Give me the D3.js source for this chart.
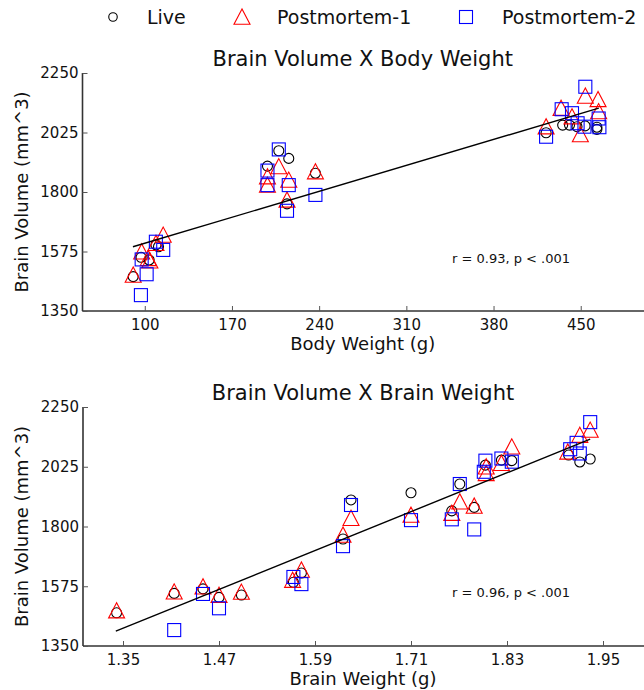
<!DOCTYPE html>
<html><head><meta charset="utf-8">
<script src="https://cdn.jsdelivr.net/npm/d3@7"></script>
<style>body{margin:0;background:#fff}svg{display:block}text{font-family:"DejaVu Sans",sans-serif;fill:#111}</style>
</head><body><svg id="c" width="644" height="690"></svg>
<script>
// ---- data ----
const yTicks = [1350, 1575, 1800, 2025, 2250];
const bodyTicks = [100, 170, 240, 310, 380, 450];
const brainTicks = [1.35, 1.47, 1.59, 1.71, 1.83, 1.95];
const seriesNames = ["Live", "Postmortem-1", "Postmortem-2"];

// Panel 1: Body weight (g) vs brain volume (mm^3)
const bodyLive = [[90.7,1480],[97,1553],[103.5,1543],[109,1600],[111,1593],[198.5,1898],[207.6,1956],[215.6,1927],[214.2,1755],[237,1871],[422.2,2024],[435.5,2053],[441,2053],[447,2047],[453.5,2050],[463,2045],[463,2037]];
const bodyPM1 = [[90.7,1486],[97.5,1574],[102.8,1549],[104.1,1540],[109,1606],[114.8,1637],[198.5,1858],[198.5,1826],[207.6,1896],[215.6,1845],[214.2,1770],[237,1877],[422.2,2047],[434.2,2117],[443,2085],[449.7,2017],[453.7,2163],[463.9,2150],[464.4,2104]];
const bodyPM2 = [[96.9,1410],[101.5,1489],[97.5,1545],[108.9,1612],[114.8,1581],[207.6,1961],[198.5,1881],[198.5,1826],[215.6,1826],[214.2,1729],[237,1789],[422.2,2009],[434.7,2113],[443,2098],[447.5,2060],[453,2047],[453.7,2198],[464.4,2078],[465,2045]];
const bodyFit = [[90.5,1593],[464.5,2117]];
const bodyStat = "r = 0.93, p < .001";

// Panel 2: Brain weight (g) vs brain volume (mm^3)
const brainLive = [[1.342,1475],[1.414,1548],[1.450,1565],[1.470,1533],[1.498,1542],[1.563,1590],[1.573,1625],[1.625,1753],[1.635,1900],[1.710,1927],[1.761,1859],[1.771,1960],[1.789,1872],[1.803,2031],[1.823,2050],[1.836,2048],[1.907,2069],[1.921,2043],[1.934,2054]];
const brainPM1 = [[1.342,1483],[1.414,1554],[1.450,1573],[1.470,1541],[1.498,1553],[1.562,1598],[1.573,1636],[1.625,1768],[1.635,1831],[1.710,1843],[1.761,1850],[1.771,1893],[1.789,1877],[1.804,2025],[1.804,2000],[1.823,2038],[1.836,2100],[1.906,2081],[1.921,2144],[1.934,2163]];
const brainPM2 = [[1.414,1410],[1.450,1546],[1.470,1492],[1.563,1610],[1.573,1583],[1.625,1726],[1.635,1881],[1.710,1824],[1.761,1827],[1.771,1960],[1.789,1789],[1.803,2048],[1.801,2006],[1.823,2056],[1.836,2044],[1.909,2091],[1.917,2115],[1.921,2075],[1.934,2193]];
const brainFit = [[1.341,1406],[1.934,2129]];
const brainStat = "r = 0.96, p < .001";

// ---- drawing ----
const svg = d3.select("#c");
const colors = ["#000000", "#ff0000", "#0000ff"];
const shapes = ["circle", "triangle", "square"];

function marker(g, shape, x, y, color, scale) {
  scale = scale || 1;
  if (shape === "circle") {
    g.append("circle").attr("cx", x).attr("cy", y).attr("r", 5 * scale)
      .attr("fill", "none").attr("stroke", color).attr("stroke-width", 1.1);
  } else if (shape === "triangle") {
    const s = 8 * scale;
    g.append("path").attr("d", `M${x},${y - s}L${x - s},${y + s * 0.9}L${x + s},${y + s * 0.9}Z`)
      .attr("fill", "none").attr("stroke", color).attr("stroke-width", 1.1);
  } else {
    const s = 6.5 * scale;
    g.append("rect").attr("x", x - s).attr("y", y - s).attr("width", 2 * s).attr("height", 2 * s)
      .attr("fill", "none").attr("stroke", color).attr("stroke-width", 1.1);
  }
}

function panel(opt) {
  const g = svg.append("g");
  const x = d3.scaleLinear().domain(opt.xDomain).range([opt.left, opt.right]);
  const y = d3.scaleLinear().domain([1350, 2250]).range([opt.bottom, opt.top]);

  opt.series.forEach((s, i) => {
    s.forEach(d => marker(g, shapes[i], x(d[0]), y(d[1]), colors[i]));
  });

  g.append("line")
    .attr("x1", x(opt.fit[0][0])).attr("y1", y(opt.fit[0][1]))
    .attr("x2", x(opt.fit[1][0])).attr("y2", y(opt.fit[1][1]))
    .attr("stroke", "#000").attr("stroke-width", 1.4);

  const xAxis = d3.axisBottom(x).tickValues(opt.xTicks).tickSize(-5).tickPadding(8)
    .tickFormat(opt.xFormat);
  const gx = g.append("g").attr("transform", `translate(0,${opt.bottom})`).call(xAxis);
  gx.select(".domain").attr("d", `M${opt.left},0H${opt.right + 5}`).attr("stroke", "#333").attr("stroke-width", 1.6);
  gx.selectAll(".tick line").attr("stroke", "#555");
  gx.selectAll(".tick text").attr("font-size", 15).attr("font-family", "DejaVu Sans").attr("fill", "#111").attr("dy", "0.75em");

  const yAxis = d3.axisLeft(y).tickValues(yTicks).tickSize(-5).tickPadding(4).tickFormat(d3.format("d"));
  const gy = g.append("g").attr("transform", `translate(${opt.left},0)`).call(yAxis);
  gy.select(".domain").attr("d", `M0,${opt.top}V${opt.bottom}`).attr("stroke", "#333").attr("stroke-width", 1.6);
  gy.selectAll(".tick line").attr("stroke", "#555");
  gy.selectAll(".tick text").attr("font-size", 15).attr("font-family", "DejaVu Sans").attr("fill", "#111");

  g.append("text").attr("x", (opt.left + opt.right) / 2).attr("y", opt.top - 7)
    .attr("text-anchor", "middle").attr("font-size", 21).text(opt.title);
  g.append("text").attr("x", (opt.left + opt.right) / 2).attr("y", opt.bottom + 39)
    .attr("text-anchor", "middle").attr("font-size", 18).text(opt.xLabel);
  g.append("text").attr("transform", `translate(28,${(opt.top + opt.bottom) / 2}) rotate(-90)`)
    .attr("text-anchor", "middle").attr("font-size", 18).text("Brain Volume (mm^3)");
  g.append("text").attr("x", 452).attr("y", opt.statY).attr("font-size", 13).text(opt.stat);
}

panel({
  left: 82.5, right: 643, top: 73, bottom: 311,
  xDomain: [50, 500], xTicks: bodyTicks, xFormat: d3.format("d"),
  series: [bodyLive, bodyPM1, bodyPM2], fit: bodyFit,
  title: "Brain Volume X Body Weight", xLabel: "Body Weight (g)",
  stat: bodyStat, statY: 263
});
panel({
  left: 83, right: 643, top: 407, bottom: 646,
  xDomain: [1.3, 2.0], xTicks: brainTicks, xFormat: d3.format(".2f"),
  series: [brainLive, brainPM1, brainPM2], fit: brainFit,
  title: "Brain Volume X Brain Weight", xLabel: "Brain Weight (g)",
  stat: brainStat, statY: 597
});

const leg = svg.append("g");
const legPos = [[113, 147], [242, 277], [466, 502]];
seriesNames.forEach((n, i) => {
  marker(leg, shapes[i], legPos[i][0], 17, colors[i], i === 0 ? 0.85 : 1);
  leg.append("text").attr("x", legPos[i][1]).attr("y", 24).attr("font-size", 19).text(n);
});
</script></body></html>
